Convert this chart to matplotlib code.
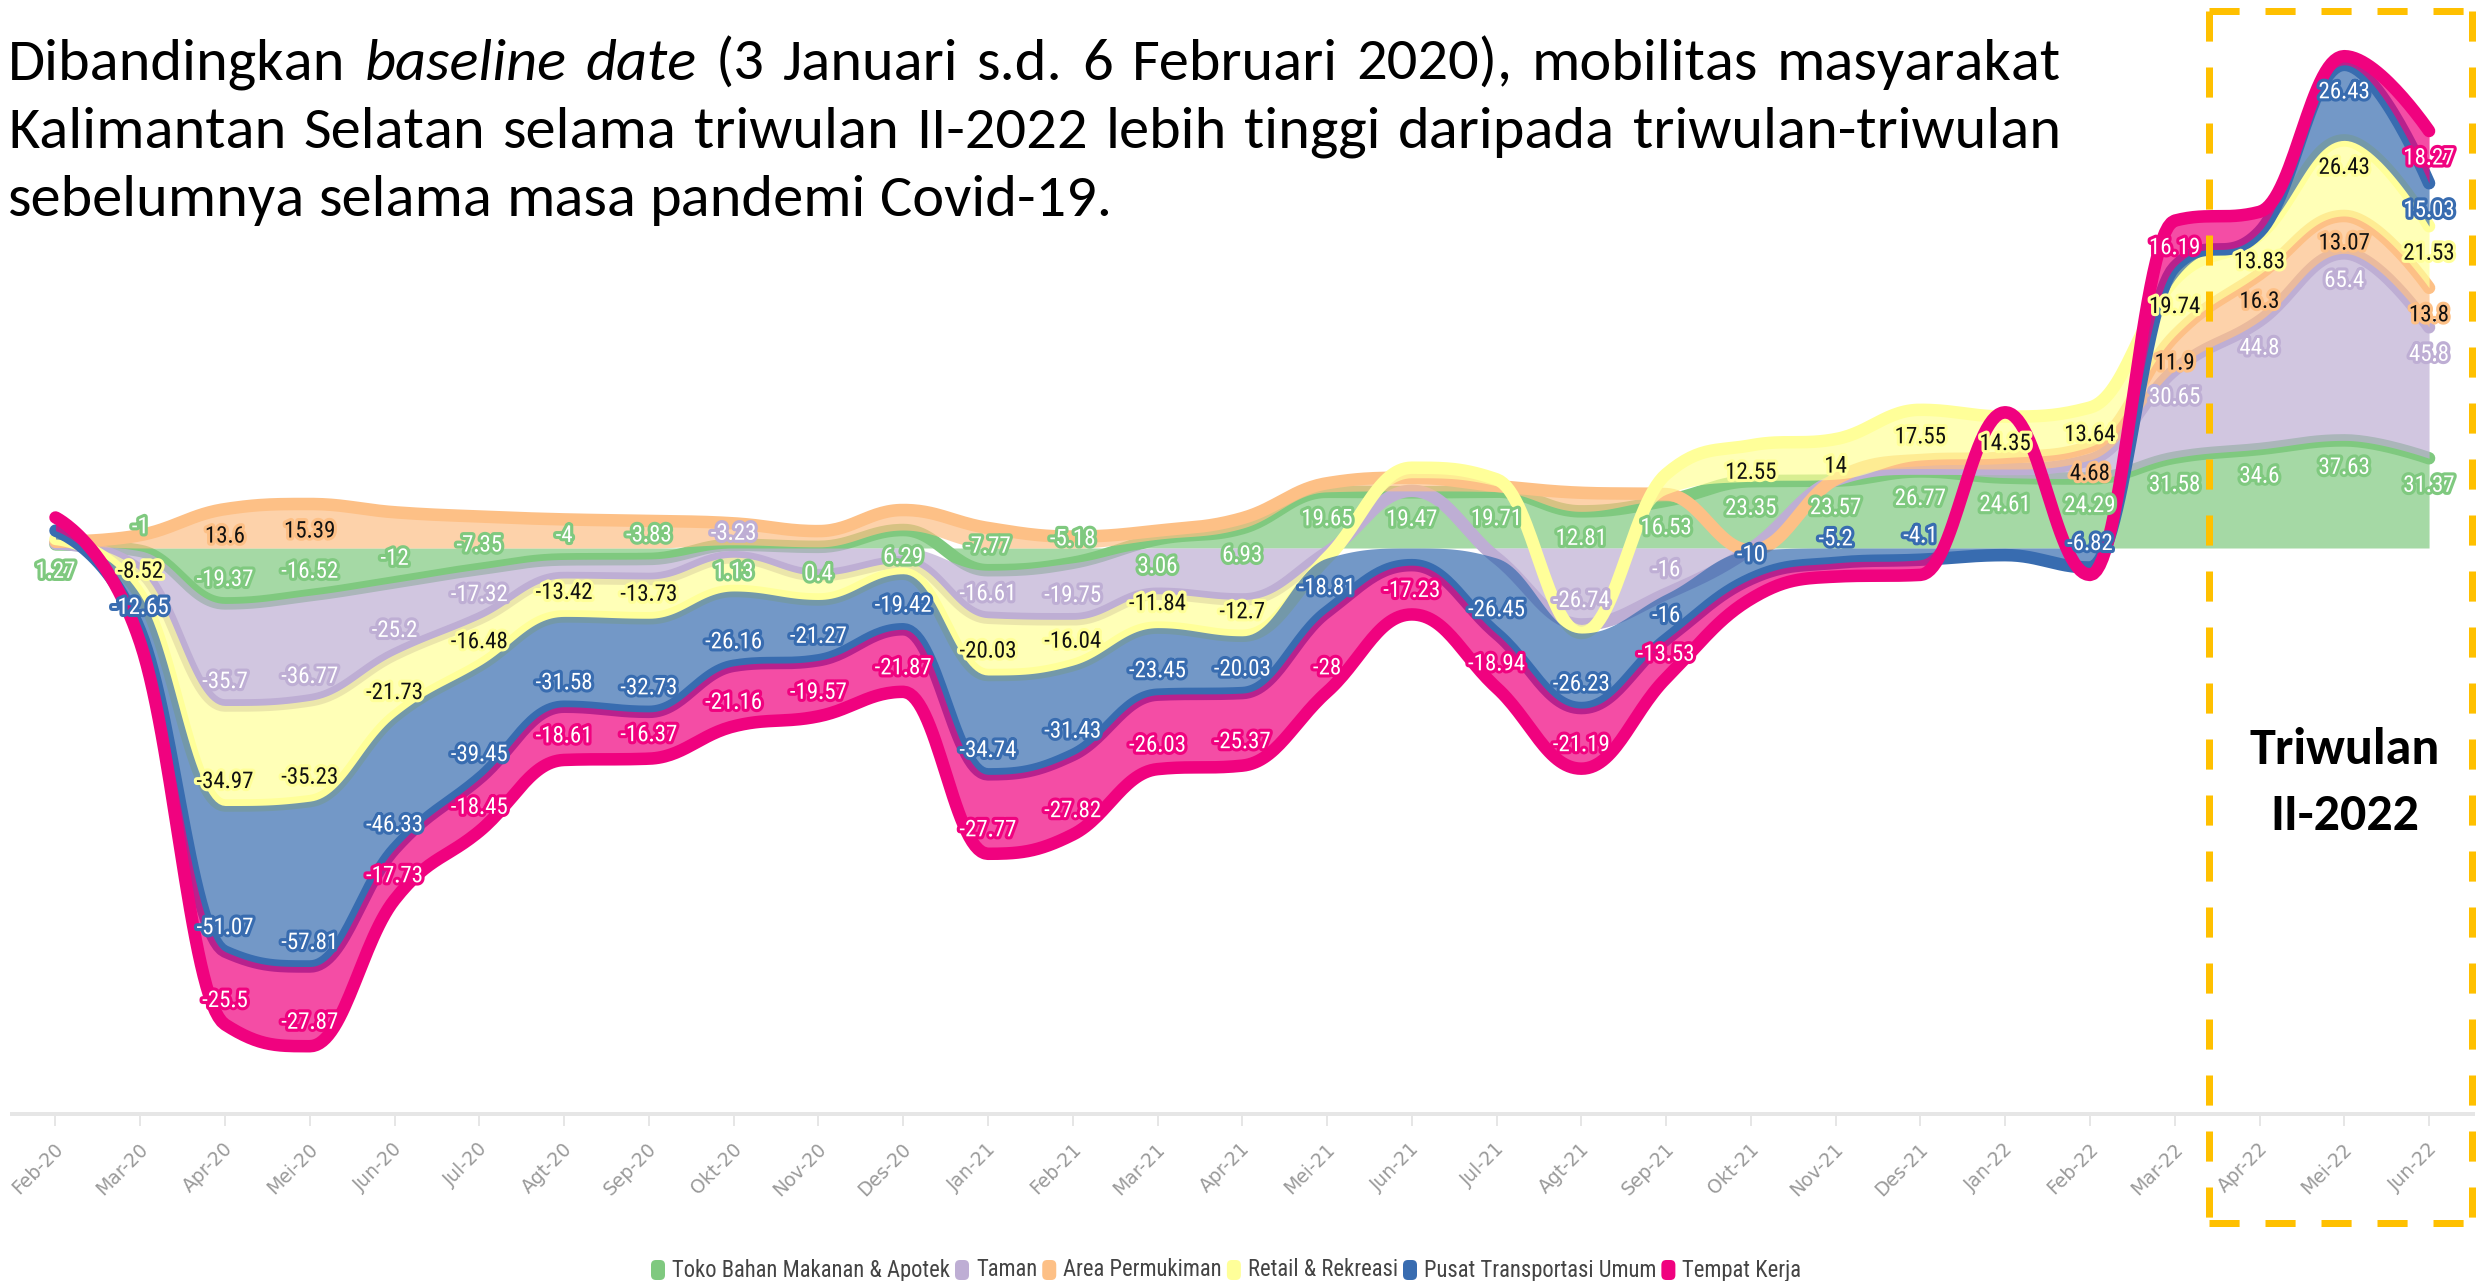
import numpy as np
import matplotlib
matplotlib.use("Agg")
import matplotlib.pyplot as plt
from matplotlib import font_manager as fm
from matplotlib.patches import FancyBboxPatch
from matplotlib.lines import Line2D
import matplotlib.patheffects as pe

# ---------------- data ----------------
months = ["Feb-20", "Mar-20", "Apr-20", "Mei-20", "Jun-20", "Jul-20", "Agt-20", "Sep-20",
          "Okt-20", "Nov-20", "Des-20", "Jan-21", "Feb-21", "Mar-21", "Apr-21", "Mei-21",
          "Jun-21", "Jul-21", "Agt-21", "Sep-21", "Okt-21", "Nov-21", "Des-21", "Jan-22",
          "Feb-22", "Mar-22", "Apr-22", "Mei-22", "Jun-22"]

series_names = ["Toko Bahan Makanan & Apotek", "Taman", "Area Permukiman",
                "Retail & Rekreasi", "Pusat Transportasi Umum", "Tempat Kerja"]

toko = [1.27, -1, -19.37, -16.52, -12, -7.35, -4, -3.83, 1.13, 0.4, 6.29, -7.77, -5.18, 3.06,
        6.93, 19.65, 19.47, 19.71, 12.81, 16.53, 23.35, 23.57, 26.77, 24.61, 24.29, 31.58,
        34.6, 37.63, 31.37]
taman = [0.3, -7, -35.7, -36.77, -25.2, -17.32, -6.5, -7, -3.23, -9.5, -5, -16.61, -19.75,
         -16, -18, -1.5, 0.5, -3.5, -26.74, -16, -0.3, 0.2, 1.0, 3.0, 6.5, 30.65, 44.8,
         65.4, 45.8]
permukiman = [0.6, 4.5, 13.6, 15.39, 12.5, 11.0, 10.0, 9.5, 7.5, 5.5, 7.0, 7.0, 4.0, 3.0,
              3.5, 3.0, 4.6, 2.0, 6.5, 2.3, -0.5, 0.3, 3.0, 4.0, 4.68, 11.9, 16.3, 13.07,
              13.8]
retail = [1.0, -8.52, -34.97, -35.23, -21.73, -16.48, -13.42, -13.73, -11.8, -8.5, -4.0,
          -20.03, -16.04, -11.84, -12.7, -2.0, 3.5, 2.3, -3.0, 7.0, 12.55, 14, 17.55, 14.35,
          13.64, 19.74, 13.83, 26.43, 21.53]
transportasi = [2.9, -12.65, -51.07, -57.81, -46.33, -39.45, -31.58, -32.73, -26.16, -21.27,
                -19.42, -34.74, -31.43, -23.45, -20.03, -18.81, -6.0, -26.45, -26.23, -16,
                -10, -5.2, -4.1, -2.5, -6.82, 4.4, 1.0, 26.43, 15.03]
kerja = [4.6, -4.0, -25.5, -27.87, -17.73, -18.45, -18.61, -16.37, -21.16, -19.57, -21.87,
         -27.77, -27.82, -26.03, -25.37, -28, -17.23, -18.94, -21.19, -13.53, -7.0, -4.8,
         -5.3, 1.5, -2.6, 16.19, 7.0, 3.0, 18.27]

# months whose data label is not displayed (overlap-hidden in the original)
hidden_labels = [
    [],
    ["Feb-20", "Mar-20", "Agt-20", "Sep-20", "Nov-20", "Des-20", "Mar-21", "Apr-21", "Mei-21",
     "Jun-21", "Jul-21", "Okt-21", "Nov-21", "Des-21", "Jan-22", "Feb-22"],
    ["Feb-20", "Mar-20", "Jun-20", "Jul-20", "Agt-20", "Sep-20", "Okt-20", "Nov-20", "Des-20",
     "Jan-21", "Feb-21", "Mar-21", "Apr-21", "Mei-21", "Jun-21", "Jul-21", "Agt-21", "Sep-21",
     "Okt-21", "Nov-21", "Des-21", "Jan-22"],
    ["Feb-20", "Okt-20", "Nov-20", "Des-20", "Mei-21", "Jun-21", "Jul-21", "Agt-21", "Sep-21"],
    ["Feb-20", "Jun-21", "Jan-22", "Mar-22", "Apr-22"],
    ["Feb-20", "Mar-20", "Okt-21", "Nov-21", "Des-21", "Jan-22", "Feb-22", "Apr-22", "Mei-22"],
]

title_lines = [
    "Dibandingkan *baseline *date (3 Januari s.d. 6 Februari 2020), mobilitas masyarakat",
    "Kalimantan Selatan selama triwulan II-2022 lebih tinggi daripada triwulan-triwulan",
    "sebelumnya selama masa pandemi Covid-19.",
]
box_text = ["Triwulan", "II-2022"]

# ---------------- style ----------------
colors = ["#7fc97f", "#beaed4", "#fdc086", "#ffff99", "#386cb0", "#f0027f"]
label_text_colors = ["white", "white", "#111111", "#111111", "white", "white"]

W, H, DPI = 2476, 1281, 100
fig = plt.figure(figsize=(W / DPI, H / DPI), dpi=DPI)
fig.patch.set_facecolor("white")

available = {f.name for f in fm.fontManager.ttflist}


def pick(*names):
    for n in names:
        if n in available:
            return n
    return "DejaVu Sans"


TITLE_FONT = pick("Carlito", "Calibri", "Lato", "Open Sans")
NARROW_FONT = pick("Liberation Sans Narrow", "Arial Narrow", "Roboto Condensed", "DejaVu Sans")
TICK_FONT = pick("DejaVu Sans")

renderer = fig.canvas.get_renderer()


def text_width(s, size, **kw):
    t = fig.text(0, 0, s, fontsize=size, **kw)
    w = t.get_window_extent(renderer).width
    t.remove()
    return w


def fit_size(s, target_w, ref=20.0, **kw):
    return ref * target_w / text_width(s, ref, **kw)


def fx(px):
    return px / W


def fy(py):
    return 1 - py / H


# ---------------- axes geometry (pixels of the 2476x1281 canvas) ----------------
X0_PX, DX_PX = 55.5, 84.77
AX_L, AX_R, AX_B, AX_T = 12, 2473, 1114, 0
ZERO_PX, PX_PER_UNIT = 548, 2.86

ax = fig.add_axes([AX_L / W, 1 - AX_B / H, (AX_R - AX_L) / W, (AX_B - AX_T) / H])
ax.set_xlim((AX_L - X0_PX) / DX_PX, (AX_R - X0_PX) / DX_PX)
ax.set_ylim(-(AX_B - ZERO_PX) / PX_PER_UNIT, (ZERO_PX - AX_T) / PX_PER_UNIT)
ax.patch.set_visible(False)
for s in ["top", "left", "right"]:
    ax.spines[s].set_visible(False)
ax.spines["bottom"].set_color("#e6e6e6")
ax.spines["bottom"].set_linewidth(4 * 72 / DPI)
ax.set_yticks([])
ax.set_xticks(range(len(months)))
ax.set_xticklabels([])
ax.tick_params(axis="x", direction="out", length=12 * 72 / DPI, width=2 * 72 / DPI,
               color="#e6e6e6")


# ---------------- Highcharts-like spline ----------------
def hc_spline(xs, ys, n=30):
    xs = np.asarray(xs, float)
    ys = np.asarray(ys, float)
    N = len(xs)
    lc = [None] * N
    rc = [None] * N
    sm = 1.5
    den = sm + 1
    for i in range(1, N - 1):
        px, py = xs[i], ys[i]
        lx, ly = xs[i - 1], ys[i - 1]
        nx, ny = xs[i + 1], ys[i + 1]
        lcx = (sm * px + lx) / den
        lcy = (sm * py + ly) / den
        rcx = (sm * px + nx) / den
        rcy = (sm * py + ny) / den
        if rcx != lcx:
            corr = ((rcy - lcy) * (rcx - px)) / (rcx - lcx) + py - rcy
            lcy += corr
            rcy += corr
            if lcy > ly and lcy > py:
                lcy = max(ly, py)
                rcy = 2 * py - lcy
            elif lcy < ly and lcy < py:
                lcy = min(ly, py)
                rcy = 2 * py - lcy
            if rcy > ny and rcy > py:
                rcy = max(ny, py)
                lcy = 2 * py - rcy
            elif rcy < ny and rcy < py:
                rcy = min(ny, py)
                lcy = 2 * py - rcy
        lc[i] = (lcx, lcy)
        rc[i] = (rcx, rcy)
    out_x = [np.array([xs[0]])]
    out_y = [np.array([ys[0]])]
    t = np.linspace(0, 1, n + 1)[1:]
    for i in range(1, N):
        p0 = np.array([xs[i - 1], ys[i - 1]])
        p1 = np.array(rc[i - 1]) if rc[i - 1] is not None else p0
        p3 = np.array([xs[i], ys[i]])
        p2 = np.array(lc[i]) if lc[i] is not None else p3
        b = (((1 - t) ** 3)[:, None] * p0 + (3 * (1 - t) ** 2 * t)[:, None] * p1
             + (3 * (1 - t) * t ** 2)[:, None] * p2 + (t ** 3)[:, None] * p3)
        out_x.append(b[:, 0])
        out_y.append(b[:, 1])
    return np.concatenate(out_x), np.concatenate(out_y)


# ---------------- stacking (positive and negative stacks separate) ----------------
vals = np.array([toko, taman, permukiman, retail, transportasi, kerja], float)
x = np.arange(len(months))
pos = np.zeros(len(months))
neg = np.zeros(len(months))
tops, bots = [], []
for v in vals:
    bot = np.where(v >= 0, pos, neg)
    top = bot + v
    pos = np.where(v >= 0, top, pos)
    neg = np.where(v < 0, top, neg)
    tops.append(top)
    bots.append(bot)

LW = 12.5 * 72 / DPI
for k in range(len(vals)):
    sx, st = hc_spline(x, tops[k])
    _, sb = hc_spline(x, bots[k])
    ax.fill_between(sx, sb, st, color=colors[k], alpha=0.7, lw=0, zorder=2 + 2 * k)
    ax.plot(sx, st, color=colors[k], lw=LW, solid_capstyle="round",
            solid_joinstyle="round", zorder=3 + 2 * k)
    ax.plot([x[0]], [tops[k][0]], "o", ms=10 * 72 / DPI, color=colors[k], mec="none",
            zorder=3.5 + 2 * k)
ax.plot([x[1]], [tops[4][1]], "o", ms=10 * 72 / DPI, color=colors[4], mec="none", zorder=11.5)

# ---------------- data labels ----------------
LABEL_FS = fit_size("-19.37", 57, family=NARROW_FONT)
for k in range(len(vals)):
    for i, m in enumerate(months):
        if m in hidden_labels[k]:
            continue
        v = vals[k][i]
        off = -27 if v >= 0 else 24
        ax.annotate(f"{v:g}", (x[i], tops[k][i]), xytext=(0, off), textcoords="offset pixels",
                    ha="center", va="center", fontsize=LABEL_FS, family=NARROW_FONT,
                    color=label_text_colors[k], zorder=60,
                    path_effects=[pe.withStroke(linewidth=4.5, foreground=colors[k])])

# ---------------- x tick labels ----------------
for i, m in enumerate(months):
    fig.text(fx(X0_PX + i * DX_PX + 5), fy(1146), m, rotation=45, rotation_mode="anchor",
             ha="right", va="center", fontsize=13.5, family=TICK_FONT, color="#9a9a9a")

# ---------------- title (justified) ----------------
baselines = [80, 148, 216]
LEFT, RIGHT = 8, 2061


def parse_words(line):
    words = []
    for w in line.split(" "):
        if w.startswith("*"):
            words.append((w.strip("*"), "italic"))
        else:
            words.append((w, "normal"))
    return words


parsed = [parse_words(l) for l in title_lines]
# font size so that the justified lines keep visible word gaps
ref_fs = 40.0
sizes = []
for li, target_gap in [(0, 15), (1, 18)]:
    wsum = sum(text_width(w, ref_fs, family=TITLE_FONT, style=st) for w, st in parsed[li])
    avail = RIGHT - LEFT - target_gap * (len(parsed[li]) - 1)
    sizes.append(ref_fs * avail / wsum)
TITLE_FS = min(sizes)

for li, words in enumerate(parsed):
    widths = [text_width(w, TITLE_FS, family=TITLE_FONT, style=st) for w, st in words]
    if li < 2:
        gap = (RIGHT - LEFT - sum(widths)) / (len(words) - 1)
    else:
        gap = (text_width("a b", TITLE_FS, family=TITLE_FONT)
               - text_width("ab", TITLE_FS, family=TITLE_FONT))
    xpos = LEFT
    for (w, st), wd in zip(words, widths):
        fig.text(fx(xpos), fy(baselines[li]), w, ha="left", va="baseline", fontsize=TITLE_FS,
                 family=TITLE_FONT, style=st, color="black")
        xpos += wd + gap

# ---------------- highlighted quarter box ----------------
BOX_FS = fit_size(box_text[0], 190, family=TITLE_FONT, weight="bold")
fig.text(fx(2345), fy(750), box_text[0], ha="center", va="center", fontsize=BOX_FS,
         family=TITLE_FONT, weight="bold", color="black")
fig.text(fx(2345), fy(816), box_text[1], ha="center", va="center", fontsize=BOX_FS,
         family=TITLE_FONT, weight="bold", color="black")

BL, BR, BT, BB = 2209, 2472, 11, 1223
dash_lw = 7 * 72 / DPI
for (xa, ya, xb, yb) in [(BL, BT, BR, BT), (BR, BT, BR, BB), (BL, BT, BL, BB), (BL, BB, BR, BB)]:
    fig.add_artist(Line2D([fx(xa), fx(xb)], [fy(ya), fy(yb)], transform=fig.transFigure,
                          color="#ffc000", lw=dash_lw, linestyle=(0, (4.3, 3.7)),
                          solid_capstyle="butt", dash_capstyle="butt", zorder=80))

# ---------------- legend ----------------
LEG_FS = fit_size(series_names[0], 278, family=NARROW_FONT)
xpos = 651
LEG_Y = 1270
for k, name in enumerate(series_names):
    sym = FancyBboxPatch((fx(xpos), fy(LEG_Y + 10)), 14 / W, 20 / H,
                         boxstyle="round,pad=0,rounding_size=0.002",
                         transform=fig.transFigure, facecolor=colors[k], edgecolor="none",
                         mutation_aspect=W / H)
    fig.add_artist(sym)
    tw = text_width(name, LEG_FS, family=NARROW_FONT)
    fig.text(fx(xpos + 21), fy(LEG_Y), name, ha="left", va="center", fontsize=LEG_FS,
             family=NARROW_FONT, color="#444444")
    xpos += 21 + tw + 5

fig.savefig("out.png", dpi=DPI, facecolor="white")
